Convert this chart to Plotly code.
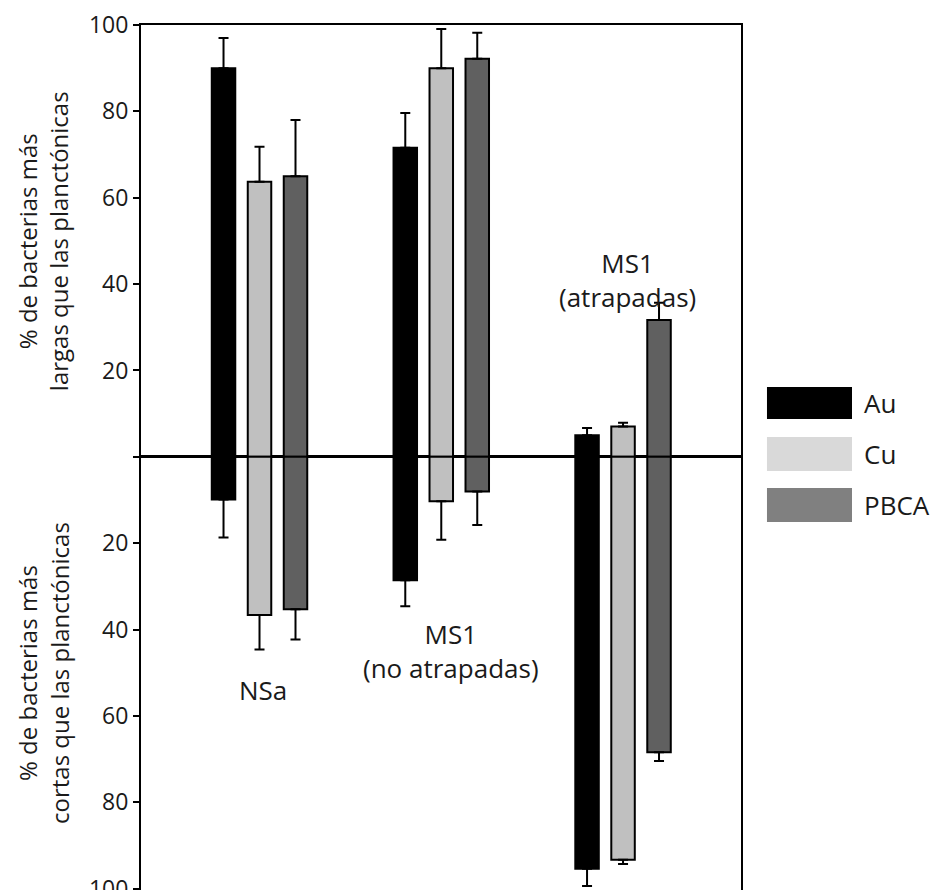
import plotly.graph_objects as go

# ---------------- data ----------------
groups = ["NSa", "MS1 (no atrapadas)", "MS1 (atrapadas)"]
series = ["Au", "Cu", "PBCA"]

# % longer than planktonic (upper half)
long_au = [90.0, 71.6, 5.0]
long_cu = [63.7, 90.0, 7.0]
long_pbca = [65.0, 92.2, 31.7]
# % shorter than planktonic (lower half)
short_au = [9.9, 28.6, 95.4]
short_cu = [36.6, 10.3, 93.3]
short_pbca = [35.3, 8.0, 68.4]
# error bars (upper on long, lower on short)
err_long_au = [7.0, 8.0, 1.7]
err_long_cu = [8.1, 9.1, 0.9]
err_long_pbca = [13.0, 6.0, 4.0]
err_short_au = [8.8, 6.0, 4.0]
err_short_cu = [8.0, 8.9, 1.0]
err_short_pbca = [7.0, 7.8, 2.0]

bar_colors = {"Au": "#000000", "Cu": "#c0c0c0", "PBCA": "#606060"}
legend_colors = {"Au": "#000000", "Cu": "#d9d9d9", "PBCA": "#808080"}

y_ticks = [-100, -80, -60, -40, -20, 0, 20, 40, 60, 80, 100]
y_ticktext = ["100", "80", "60", "40", "20", "", "20", "40", "60", "80", "100"]

FONT = "Open Sans"
TXT = "#1a1a1a"

longs = {"Au": long_au, "Cu": long_cu, "PBCA": long_pbca}
shorts = {"Au": short_au, "Cu": short_cu, "PBCA": short_pbca}
elong = {"Au": err_long_au, "Cu": err_long_cu, "PBCA": err_long_pbca}
eshort = {"Au": err_short_au, "Cu": err_short_cu, "PBCA": err_short_pbca}

fig = go.Figure()
for s in series:
    fig.add_trace(go.Bar(
        x=groups, y=longs[s], name=s, offsetgroup=s, showlegend=False,
        marker=dict(color=bar_colors[s], line=dict(color="#000000", width=2)),
        error_y=dict(type="data", symmetric=False, array=elong[s],
                     arrayminus=[0] * len(groups), color="#000000",
                     thickness=2, width=5),
    ))
    fig.add_trace(go.Bar(
        x=groups, y=[-v for v in shorts[s]], name=s, offsetgroup=s, showlegend=False,
        marker=dict(color=bar_colors[s], line=dict(color="#000000", width=2)),
        error_y=dict(type="data", symmetric=False, array=[0] * len(groups),
                     arrayminus=eshort[s], color="#000000",
                     thickness=2, width=5),
    ))

annotations = [
    dict(x=groups[0], y=-54, text="NSa", showarrow=False, xshift=3,
         font=dict(size=26, family=FONT, color=TXT), yanchor="middle"),
    dict(x=groups[1], y=-45, text="MS1<br>(no atrapadas)", showarrow=False, xshift=10,
         font=dict(size=26, family=FONT, color=TXT), yanchor="middle"),
    dict(x=groups[2], y=41, text="MS1<br>(atrapadas)", showarrow=False, xshift=4,
         font=dict(size=26, family=FONT, color=TXT), yanchor="middle"),
    dict(xref="paper", yref="y", x=-0.163, y=50, xanchor="center", yanchor="middle",
         text="% de bacterias más<br>largas que las planctónicas", textangle=-90,
         showarrow=False, font=dict(size=24, family=FONT, color=TXT)),
    dict(xref="paper", yref="y", x=-0.163, y=-50, xanchor="center", yanchor="middle",
         text="% de bacterias más<br>cortas que las planctónicas", textangle=-90,
         showarrow=False, font=dict(size=24, family=FONT, color=TXT)),
]

shapes = []
legend_box_y = [(0.5445, 0.5815), (0.4844, 0.5237), (0.4254, 0.4647)]
for s, (y0, y1) in zip(series, legend_box_y):
    shapes.append(dict(type="rect", xref="paper", yref="paper",
                       x0=1.0433, x1=1.185, y0=y0, y1=y1,
                       fillcolor=legend_colors[s], line=dict(width=0)))
    annotations.append(dict(xref="paper", yref="paper", x=1.2017, y=(y0 + y1) / 2,
                            xanchor="left", yanchor="middle", text=s, showarrow=False,
                            font=dict(size=26, family=FONT, color=TXT)))

fig.update_layout(
    width=930, height=890,
    margin=dict(l=141, r=189, t=25, b=0),
    paper_bgcolor="white", plot_bgcolor="white",
    barmode="group", bargap=0.406, bargroupgap=0.347,
    font=dict(family=FONT, color=TXT),
    annotations=annotations, shapes=shapes,
    xaxis=dict(type="category", range=[-0.652, 2.649], side="top",
               showline=True, linecolor="#000000", linewidth=2,
               showticklabels=False, ticks="", showgrid=False, zeroline=False,
               automargin=False, fixedrange=True),
    yaxis=dict(range=[-100.3, 100], tickvals=y_ticks, ticktext=y_ticktext,
               ticks="outside", ticklen=6, tickwidth=2, tickcolor="#000000",
               ticklabeloverflow="allow", automargin=False,
               showline=True, mirror=True, linecolor="#000000", linewidth=2,
               showgrid=False, zeroline=True, zerolinecolor="#000000",
               zerolinewidth=2.5, tickfont=dict(size=23, family=FONT, color=TXT),
               fixedrange=True),
)

fig.write_html("out.html")
